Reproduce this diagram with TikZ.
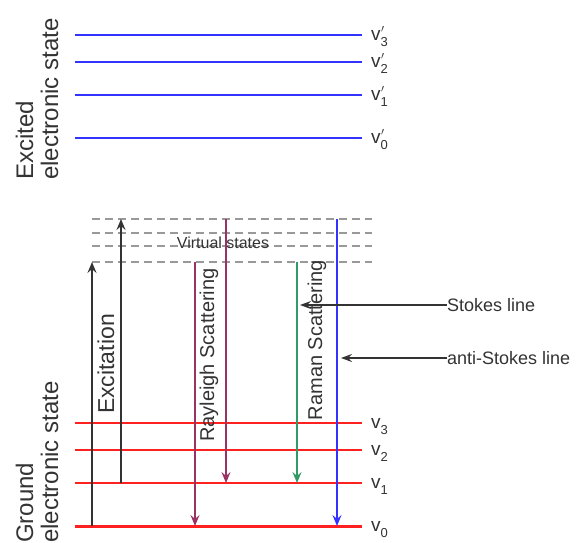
\documentclass[tikz,border=0pt]{standalone}
\usepackage{fontspec}
\setmainfont{Liberation Sans}
\usetikzlibrary{arrows.meta}
\definecolor{txt}{HTML}{333333}
\definecolor{exblue}{HTML}{3333FF}
\definecolor{gdred}{HTML}{FF2020}
\definecolor{virt}{HTML}{999999}
\definecolor{purp}{HTML}{993366}
\definecolor{grn}{HTML}{339966}
\definecolor{dark}{HTML}{333333}
\tikzset{
  exlevel/.style={draw=exblue, line width=2pt},
  gdlevel/.style={draw=gdred, line width=2pt},
  vlevel/.style={draw=virt, line width=2pt, dash pattern=on 8pt off 5pt},
  trans/.style={-{Stealth[length=11pt,width=9pt,inset=4pt]}, line width=2pt},
  pointer/.style={-{Stealth[length=11pt,width=8pt,inset=4pt]}, line width=1.6pt, draw=dark},
  vlab/.style={anchor=mid west, inner sep=0pt, text=txt, font=\fontsize{19}{21}\selectfont},
  sidelab/.style={rotate=90, anchor=base west, inner sep=0pt, text=txt, font=\fontsize{24}{26}\selectfont},
  arrlab/.style={rotate=90, inner sep=0pt, text=txt},
  ptrlab/.style={anchor=west, inner sep=0pt, text=txt, font=\fontsize{18}{20}\selectfont}
}
\newcommand{\vp}[1]{v\rlap{\raisebox{0.42em}{\fontsize{11}{11}\selectfont\kern0.5pt$\prime$}}\raisebox{-0.3em}{\fontsize{13}{13}\selectfont #1}}
\newcommand{\vg}[1]{v\raisebox{-0.3em}{\fontsize{13}{13}\selectfont #1}}
\begin{document}
\begin{tikzpicture}[x=1pt,y=-1pt]
\useasboundingbox (0,0) rectangle (581,542);
% side labels
\node[sidelab] (exA) at (33,180) {Excited};
\node[sidelab] (exB) at (58,180) {electronic state};
\node[sidelab] (gdA) at (33,543) {Ground};
\node[sidelab] (gdB) at (58,543) {electronic state};
% excited levels
\foreach \y/\n in {35/3,62/2,95/1,138/0}{
  \coordinate (e\n L) at (75,\y);
  \coordinate (e\n R) at (362,\y);
  \draw[exlevel] (e\n L) -- (e\n R);
  \node[vlab] (ev\n) at (371,\y+3) {\vp{\n}};
}
% virtual levels
\foreach \y/\n in {219/3,233/2,246/1,262/0}{
  \coordinate (s\n L) at (92,\y);
  \coordinate (s\n R) at (372,\y);
  \draw[vlevel] (s\n L) -- (s\n R);
}
\node[inner sep=1pt, text=txt, font=\fontsize{16}{18}\selectfont] (virtlab) at (223,243) {Virtual states};
% ground levels
\foreach \y/\n/\w in {423/3/2pt,450/2/2pt,483/1/2pt,526/0/3pt}{
  \coordinate (g\n L) at (75,\y);
  \coordinate (g\n R) at (362,\y);
  \draw[gdlevel, line width=\w] (g\n L) -- (g\n R);
  \node[vlab] (gv\n) at (371,\y+3) {\vg{\n}};
}
% transitions
\coordinate (x1a) at (92,526); \coordinate (x1b) at (92,262);
\coordinate (x2a) at (121,483); \coordinate (x2b) at (121,219);
\coordinate (r1a) at (195,262); \coordinate (r1b) at (195,526);
\coordinate (r2a) at (226,219); \coordinate (r2b) at (226,483);
\coordinate (ra) at (297,262); \coordinate (rb) at (297,483);
\coordinate (aa) at (337,219); \coordinate (ab) at (337,526);
\draw[trans, draw=dark] (x1a) -- (x1b);
\draw[trans, draw=dark] (x2a) -- (x2b);
\draw[trans, draw=purp] (r1a) -- (r1b);
\draw[trans, draw=purp] (r2a) -- (r2b);
\draw[trans, draw=grn] (ra) -- (rb);
\draw[trans, draw=exblue] (aa) -- (ab);
\node[arrlab, font=\fontsize{23}{25}\selectfont] (exc) at (106,364) {Excitation};
\node[arrlab, font=\fontsize{20}{22}\selectfont] (ray) at (209,355) {Rayleigh Scattering};
\node[arrlab, font=\fontsize{20}{22}\selectfont] (ram) at (317,340) {Raman Scattering};
% pointers
\node[ptrlab] (stk) at (447,305) {Stokes line};
\node[ptrlab] (astk) at (447,358) {anti-Stokes line};
\coordinate (stkTip) at (300,305);
\coordinate (astkTip) at (341,358);
\draw[pointer] (stk.west) -- (stkTip);
\draw[pointer] (astk.west) -- (astkTip);
\end{tikzpicture}
\end{document}
